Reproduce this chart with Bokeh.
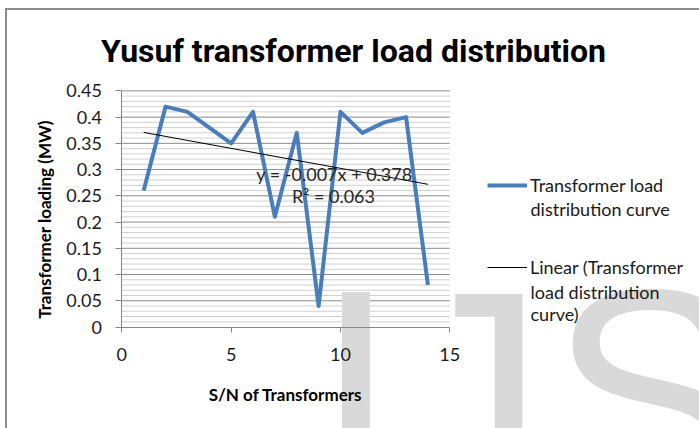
import numpy as np
from bokeh.plotting import figure
from bokeh.models import (Range1d, FixedTicker, NumeralTickFormatter, Label,
                          Legend, LegendItem)
from bokeh.embed import file_html
from bokeh.resources import INLINE

# ---- data ----
title_text = "Yusuf transformer load distribution"
x_label = "S/N of Transformers"
y_label = "Transformer loading (MW)"
series_lines = ["Transformer load", "distribution curve"]
trend_lines = ["Linear (Transformer", "load distribution", "curve)"]
sn = [1, 2, 3, 4, 5, 6, 7, 8, 9, 10, 11, 12, 13, 14]
load = [0.26, 0.42, 0.41, 0.38, 0.35, 0.41, 0.21, 0.37, 0.04, 0.41, 0.37, 0.39, 0.40, 0.08]
x_ticks = [0, 5, 10, 15]
y_ticks = [0, 0.05, 0.10, 0.15, 0.20, 0.25, 0.30, 0.35, 0.40, 0.45]
y_minor = [i / 100 for i in range(46) if i % 5]
equation_text = "y = -0.007x + 0.378"
r2_text = "R² = 0.063"
watermark = ["I", "J", "S"]

# ---- layout (pixels) ----
FONT = "Lato"
OX, OY = 7, 10                 # canvas origin on the page
CW, CH = 692, 418              # canvas size
PX_X0, PX_X1 = 121 - OX, 448 - OX    # data x 0 and 15
PX_Y0, PX_Y1 = 325 - OY, 90 - OY     # data y 0 and 0.45 (from top)

xmin, xmax = x_ticks[0], x_ticks[-1]
ymin, ymax = y_ticks[0], y_ticks[-1]
xpp = (xmax - xmin) / (PX_X1 - PX_X0)
ypp = (ymax - ymin) / (PX_Y0 - PX_Y1)
x_range = Range1d(xmin - PX_X0 * xpp, xmax + (CW - PX_X1) * xpp)
y_range = Range1d(ymin - (CH - PX_Y0) * ypp, ymax + PX_Y1 * ypp)

p = figure(width=CW + 2, height=CH + 2, x_range=x_range, y_range=y_range,
           min_border=0, output_backend="svg", toolbar_location=None)
p.outline_line_color = None
p.background_fill_color = "white"
p.border_fill_color = "white"
p.styles = {"margin-left": "5px", "margin-top": "8px",
            "border-top": "2px solid #8c8c8c", "border-left": "2px solid #8c8c8c"}
p.xgrid.visible = False
p.ygrid.visible = False


def sx(px):   # page x -> screen x relative to frame
    return px - OX


def sy(py):   # page y -> screen y relative to frame bottom
    return OY + CH - py


# grid lines (drawn through data scales from tick arrays)
p.segment(x0=[xmin] * len(y_minor), x1=[xmax] * len(y_minor), y0=y_minor, y1=y_minor,
          line_color="#d0d0d0", line_width=1)
p.segment(x0=[xmin] * (len(y_ticks) - 1), x1=[xmax] * (len(y_ticks) - 1),
          y0=y_ticks[1:], y1=y_ticks[1:], line_color="#8c8c8c", line_width=1)

# axes at fixed locations
p.xaxis.fixed_location = ymin
p.yaxis.fixed_location = xmin
p.xaxis.bounds = (xmin, xmax)
p.yaxis.bounds = (ymin, ymax)
p.yaxis.ticker = FixedTicker(ticks=y_ticks)
p.xaxis.ticker = FixedTicker(ticks=x_ticks)
p.yaxis.formatter = NumeralTickFormatter(format="0.[00]")
for ax in (p.xaxis, p.yaxis):
    ax.axis_line_color = "#868686"
    ax.major_tick_line_color = "#868686"
    ax.minor_tick_line_color = None
    ax.major_tick_in = 0
    ax.major_label_text_font = FONT
    ax.major_label_text_font_size = "18px"
    ax.major_label_text_color = "#1a1a1a"
    ax.axis_label_text_font = FONT
    ax.axis_label_text_font_size = "17px"
    ax.axis_label_text_font_style = "bold"
    ax.axis_label_text_color = "black"
p.yaxis.major_tick_out = 6
p.xaxis.major_tick_out = 5
p.yaxis.major_label_standoff = 14
p.xaxis.major_label_standoff = 16
p.xaxis.axis_label = x_label
p.xaxis.axis_label_standoff = 19

# y-axis title, centred on the plotting area
p.add_layout(Label(x=sx(44), y=sy(217), x_units="screen", y_units="screen", text=y_label,
                   angle=np.pi / 2, text_font=FONT, text_font_size="17px",
                   text_font_style="bold", text_align="center", text_baseline="middle",
                   text_color="black"))

# series
r1 = p.line(sn, load, line_color="#4a7ebb", line_width=4, line_join="round")
xs = np.array([sn[0], sn[-1]], dtype=float)
slope, intercept = np.polyfit(np.array(sn, float), np.array(load, float), 1)
r2 = p.line(xs, slope * xs + intercept, line_color="black", line_width=1)

# watermark (decorative), drawn above grid lines but below texts
wm_pos = [(314, 391), (395, 393), (549, 391)]
for ch, (wx, wy) in zip(watermark, wm_pos):
    p.add_layout(Label(x=sx(wx), y=sy(wy), x_units="screen", y_units="screen", text=ch,
                       text_font="Liberation Sans", text_font_size="298px",
                       text_color="#d9d9d9", text_baseline="alphabetic", level="glyph"))

# title
p.add_layout(Label(x=sx(353), y=sy(48), x_units="screen", y_units="screen", text=title_text,
                   text_font="Roboto", text_font_size="32px", text_font_style="bold",
                   text_align="center", text_baseline="middle", text_color="black"))

# trend equation
p.add_layout(Label(x=sx(334), y=sy(171), x_units="screen", y_units="screen",
                   text=equation_text, text_font=FONT, text_font_size="18px",
                   text_align="center", text_baseline="middle", text_color="#262626"))
p.add_layout(Label(x=sx(333), y=sy(193), x_units="screen", y_units="screen", text=r2_text,
                   text_font=FONT, text_font_size="18px", text_align="center",
                   text_baseline="middle", text_color="#262626"))

# legend
legend = Legend(items=[LegendItem(label=series_lines[0], renderers=[r1]),
                       LegendItem(label=trend_lines[0], renderers=[r2])],
                location=(sx(487), sy(276)), glyph_width=40, glyph_height=22,
                label_height=22, label_standoff=3, spacing=60, padding=0, margin=0,
                border_line_color=None, background_fill_alpha=0,
                label_text_font=FONT, label_text_font_size="18px",
                label_text_color="#1a1a1a")
p.add_layout(legend)
extra = [(series_lines[1], 206), (trend_lines[1], 289), (trend_lines[2], 311)]
for txt, ly in extra:
    p.add_layout(Label(x=sx(530), y=sy(ly), x_units="screen", y_units="screen", text=txt,
                       text_font=FONT, text_font_size="18px", text_baseline="middle",
                       text_color="#1a1a1a"))

open("out.html", "w").write(file_html(p, INLINE))
